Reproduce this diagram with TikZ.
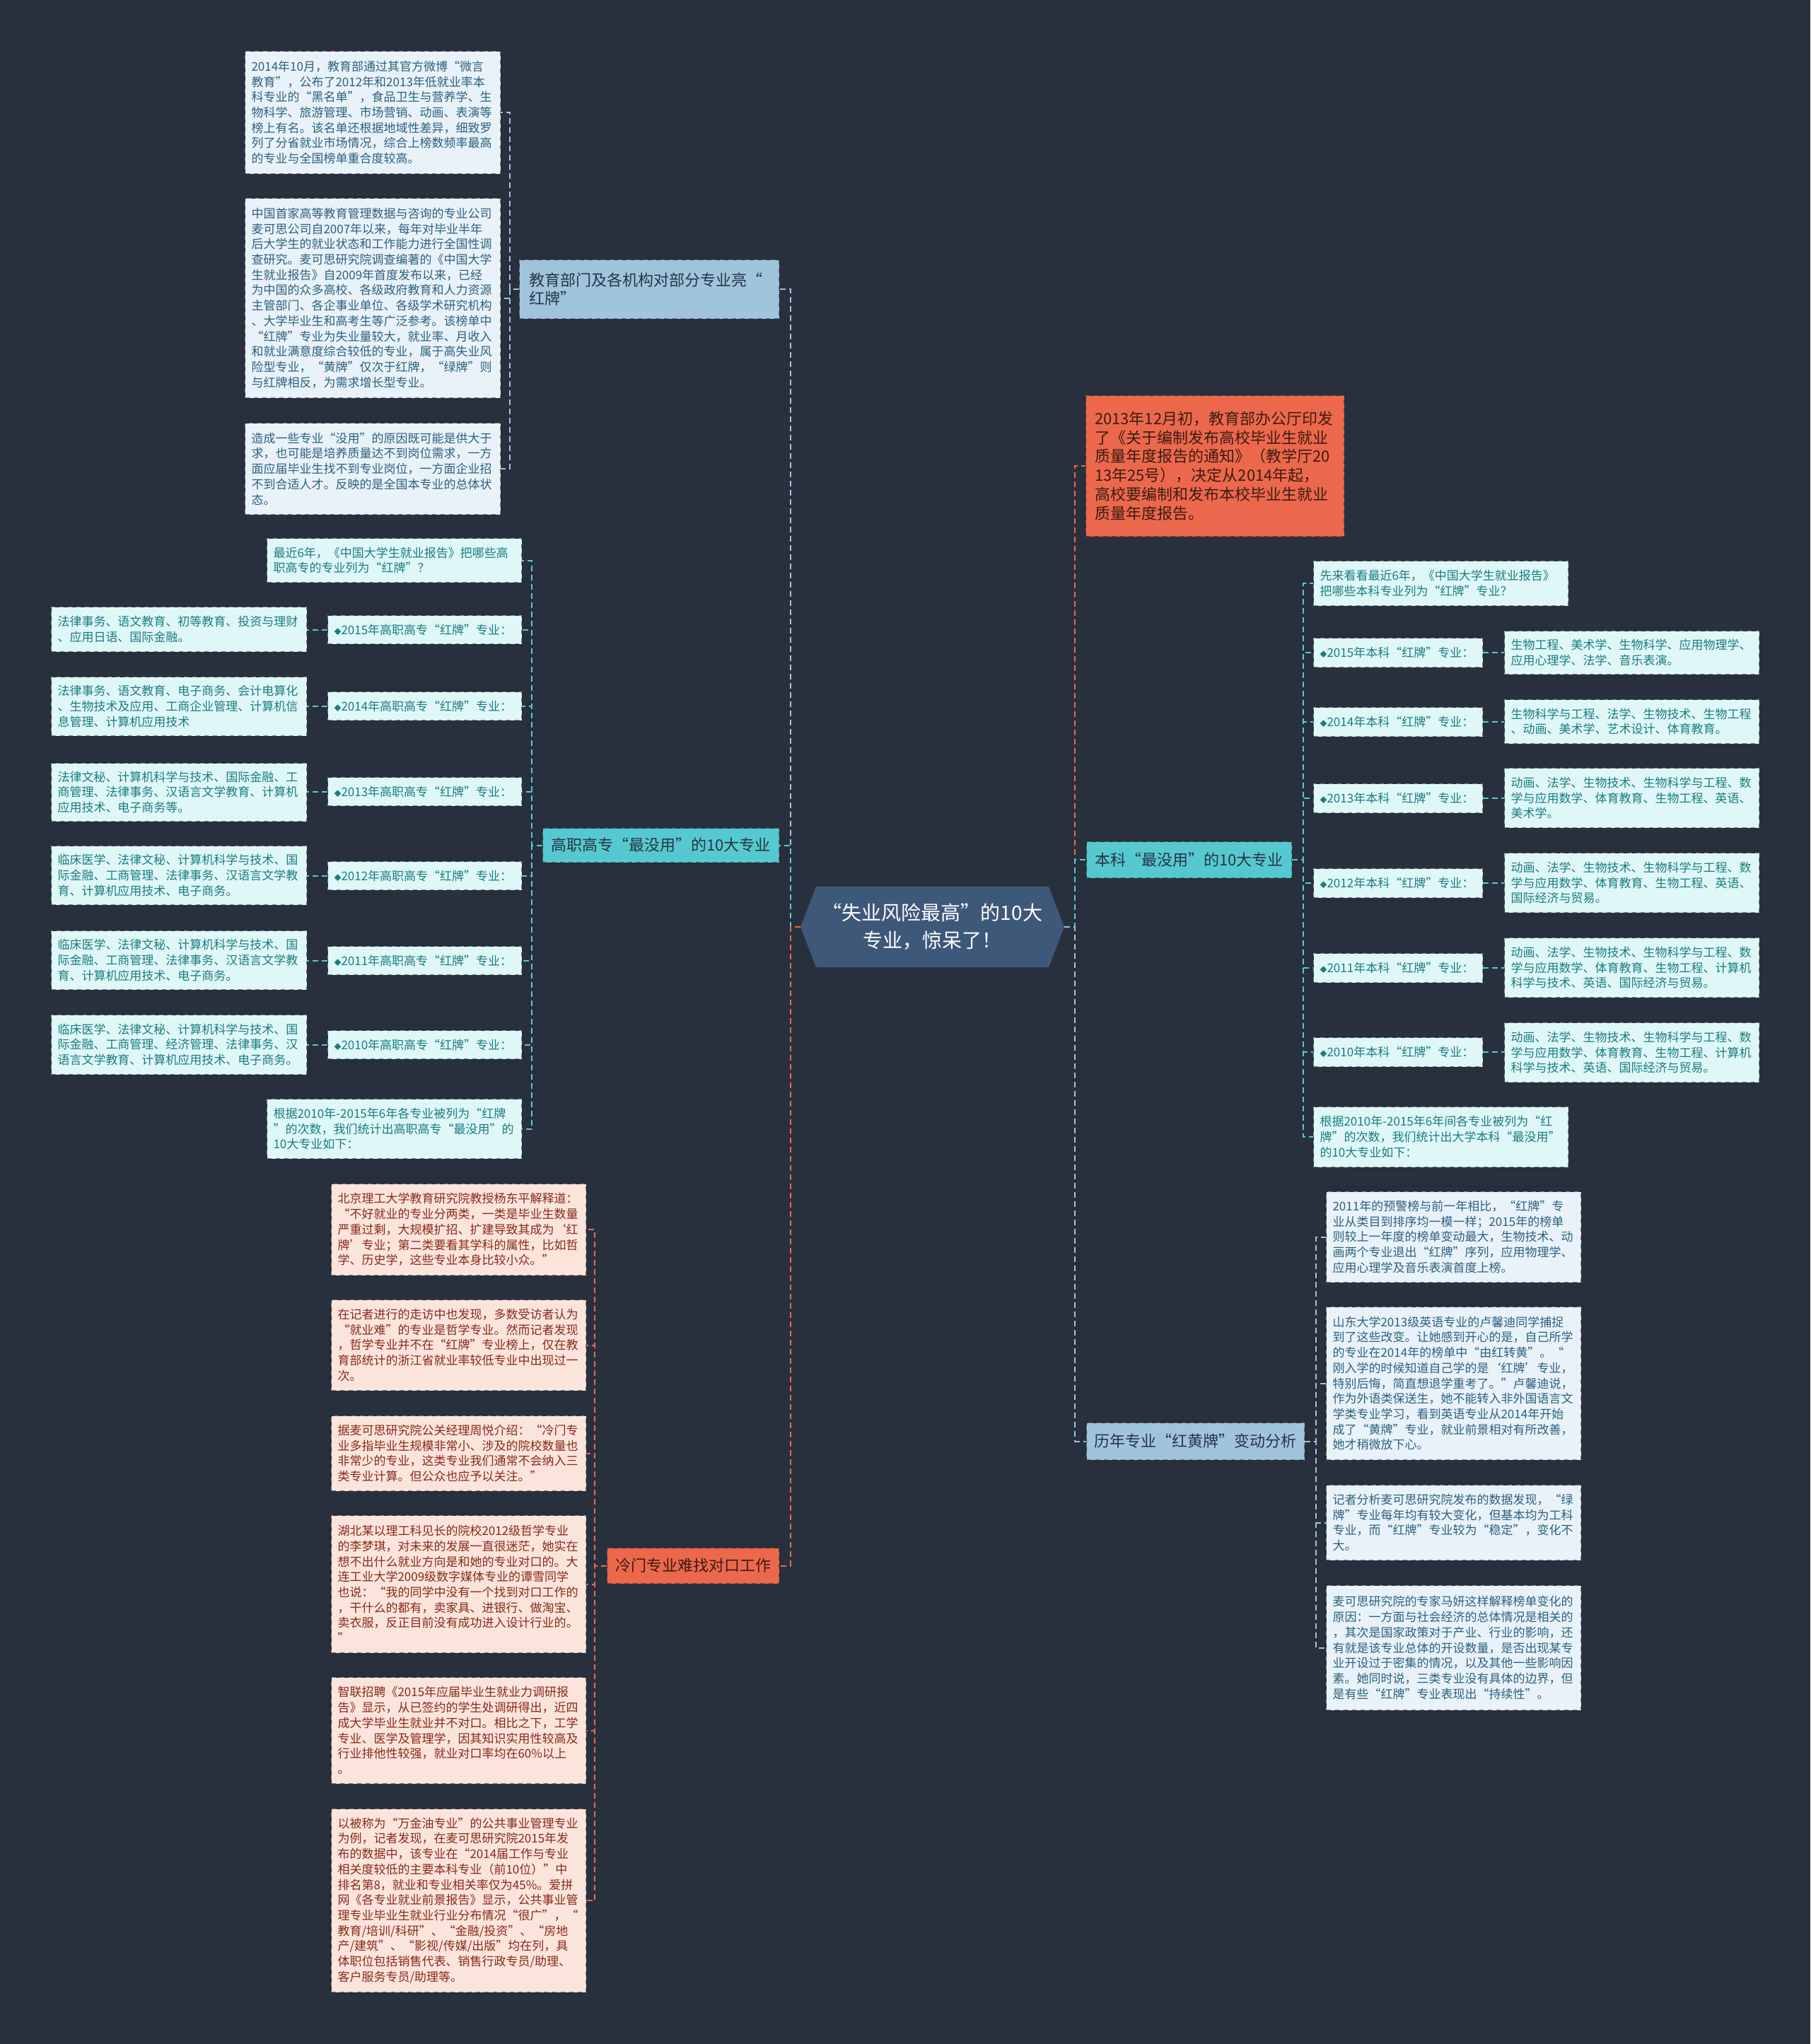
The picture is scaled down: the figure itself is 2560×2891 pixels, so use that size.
\documentclass[tikz,border=0pt]{standalone}
\usepackage{fontspec}
\setmainfont{Noto Sans CJK SC}
\usepackage{tikz}

\definecolor{nen}{RGB}{40,48,62}
\definecolor{tam}{RGB}{62,88,122}
\definecolor{xanh}{RGB}{160,196,220}
\definecolor{ngoc}{RGB}{86,201,208}
\definecolor{do}{RGB}{236,104,76}
\definecolor{nhatxanh}{RGB}{233,242,248}
\definecolor{nhatngoc}{RGB}{223,247,247}
\definecolor{nhathong}{RGB}{251,228,220}
\definecolor{chuxanh}{RGB}{44,96,128}
\definecolor{chungoc}{RGB}{26,124,128}
\definecolor{chudo}{RGB}{135,42,26}
\definecolor{chutoi}{RGB}{38,52,70}
\definecolor{chunau}{RGB}{58,28,18}

\newcommand{\hoa}{{\fontsize{5}{5}\selectfont◆}}

\begin{document}
\begin{tikzpicture}[x=0.5pt, y=-0.5pt,
    con/.style={line width=1pt, dash pattern=on 4pt off 2.5pt},
    conxanh/.style={con, draw=xanh},
    conngoc/.style={con, draw=ngoc},
    condo/.style={con, draw=do},
    hop/.style={anchor=north west, align=left, inner xsep=4.5pt, inner ysep=0pt,
        dashed, line width=0.5pt, font=\fontsize{8.5}{10.85}\selectfont},
    hopxanh/.style={hop, fill=nhatxanh, draw=nhatxanh!55!black, text=chuxanh},
    hopngoc/.style={hop, fill=nhatngoc, draw=nhatngoc!55!black, text=chungoc},
    hopdo/.style={hop, fill=nhathong, draw=nhathong!55!black, text=chudo},
    nhanh/.style={anchor=north west, align=center, inner sep=0pt,
        dashed, line width=0.5pt, font=\fontsize{11}{13.35}\selectfont},
    nhanhxanh/.style={nhanh, fill=xanh, draw=xanh!60!black, text=chutoi},
    nhanhngoc/.style={nhanh, fill=ngoc, draw=ngoc!60!black, text=chutoi},
    nhanhdo/.style={nhanh, fill=do, draw=do!60!black, text=chunau}]

    % 1. Nền
    \fill[nen] (0,0) rectangle (2560,2891);

    % 2. Nút trung tâm
    \fill[tam] (1132,1311) -- (1154,1254) -- (1483,1254) -- (1505,1311)
        -- (1483,1368) -- (1154,1368) -- cycle;
    \node[minimum width=186.5pt, minimum height=57pt, inner sep=0pt, align=center,
        text=white, font=\fontsize{14}{19.4}\selectfont] (goc) at (1318.5,1311)
        {“失业风险最高”的10大\\专业，惊呆了！};

    % 3. Các nhánh chính
    \node[nhanhxanh, minimum width=183.5pt, minimum height=41.5pt, text width=170pt,
        inner xsep=6.75pt, align=left] (jy) at (734,367)
        {教育部门及各机构对部分专业亮“\\红牌”};
    \node[nhanhngoc, minimum width=167pt, minimum height=24pt] (gz) at (767,1171)
        {高职高专“最没用”的10大专业};
    \node[nhanhdo, minimum width=121.5pt, minimum height=25pt] (lm) at (858,2189)
        {冷门专业难找对口工作};
    \node[nhanhdo, minimum width=182.5pt, minimum height=99.5pt, text width=170pt,
        inner xsep=6.25pt, align=left] (tz) at (1535,559)
        {2013年12月初，教育部办公厅印发\\了《关于编制发布高校毕业生就业\\质量年度报告的通知》（教学厅20\\13年25号），决定从2014年起，\\高校要编制和发布本校毕业生就业\\质量年度报告。};
    \node[nhanhngoc, minimum width=145pt, minimum height=25.5pt] (bk) at (1536,1190)
        {本科“最没用”的10大专业};
    \node[nhanhxanh, minimum width=154pt, minimum height=26pt] (ls) at (1536,2012)
        {历年专业“红黄牌”变动分析};

    % 4. Nhánh: 教育部门
    \node[hopxanh, text width=171.5pt, minimum height=86.5pt] (jy1) at (346,72)
        {2014年10月，教育部通过其官方微博“微言\\教育”，公布了2012年和2013年低就业率本\\科专业的“黑名单”，食品卫生与营养学、生\\物科学、旅游管理、市场营销、动画、表演等\\榜上有名。该名单还根据地域性差异，细致罗\\列了分省就业市场情况，综合上榜数频率最高\\的专业与全国榜单重合度较高。};
    \node[hopxanh, text width=171.5pt, minimum height=141pt] (jy2) at (346,280)
        {中国首家高等教育管理数据与咨询的专业公司\\麦可思公司自2007年以来，每年对毕业半年\\后大学生的就业状态和工作能力进行全国性调\\查研究。麦可思研究院调查编著的《中国大学\\生就业报告》自2009年首度发布以来，已经\\为中国的众多高校、各级政府教育和人力资源\\主管部门、各企事业单位、各级学术研究机构\\、大学毕业生和高考生等广泛参考。该榜单中\\“红牌”专业为失业量较大，就业率、月收入\\和就业满意度综合较低的专业，属于高失业风\\险型专业，“黄牌”仅次于红牌，“绿牌”则\\与红牌相反，为需求增长型专业。};
    \node[hopxanh, text width=171.5pt, minimum height=64.5pt] (jy3) at (346,598)
        {造成一些专业“没用”的原因既可能是供大于\\求，也可能是培养质量达不到岗位需求，一方\\面应届毕业生找不到专业岗位，一方面企业招\\不到合适人才。反映的是全国本专业的总体状\\态。};

    % 5. Nhánh: 高职高专
    \node[hopngoc, text width=171pt, minimum height=31pt] (gz0) at (377,761)
        {最近6年，《中国大学生就业报告》把哪些高\\职高专的专业列为“红牌”？};
    \node[hopngoc, text width=128pt, minimum height=20pt] (gn15) at (463,870) {\hoa 2015年高职高专“红牌”专业：};
    \node[hopngoc, text width=128pt, minimum height=20pt] (gn14) at (463,978) {\hoa 2014年高职高专“红牌”专业：};
    \node[hopngoc, text width=128pt, minimum height=20pt] (gn13) at (463,1099) {\hoa 2013年高职高专“红牌”专业：};
    \node[hopngoc, text width=128pt, minimum height=20pt] (gn12) at (463,1218) {\hoa 2012年高职高专“红牌”专业：};
    \node[hopngoc, text width=128pt, minimum height=20pt] (gn11) at (463,1338) {\hoa 2011年高职高专“红牌”专业：};
    \node[hopngoc, text width=128pt, minimum height=20pt] (gn10) at (463,1457) {\hoa 2010年高职高专“红牌”专业：};
    \node[hopngoc, text width=171.5pt, minimum height=31.5pt] (gt15) at (72,858)
        {法律事务、语文教育、初等教育、投资与理财\\、应用日语、国际金融。};
    \node[hopngoc, text width=171.5pt, minimum height=41.5pt] (gt14) at (72,957)
        {法律事务、语文教育、电子商务、会计电算化\\、生物技术及应用、工商企业管理、计算机信\\息管理、计算机应用技术};
    \node[hopngoc, text width=171.5pt, minimum height=41pt] (gt13) at (72,1079)
        {法律文秘、计算机科学与技术、国际金融、工\\商管理、法律事务、汉语言文学教育、计算机\\应用技术、电子商务等。};
    \node[hopngoc, text width=171.5pt, minimum height=41.5pt] (gt12) at (72,1196)
        {临床医学、法律文秘、计算机科学与技术、国\\际金融、工商管理、法律事务、汉语言文学教\\育、计算机应用技术、电子商务。};
    \node[hopngoc, text width=171.5pt, minimum height=41.5pt] (gt11) at (72,1316)
        {临床医学、法律文秘、计算机科学与技术、国\\际金融、工商管理、法律事务、汉语言文学教\\育、计算机应用技术、电子商务。};
    \node[hopngoc, text width=171.5pt, minimum height=42pt] (gt10) at (72,1435)
        {临床医学、法律文秘、计算机科学与技术、国\\际金融、工商管理、经济管理、法律事务、汉\\语言文学教育、计算机应用技术、电子商务。};
    \node[hopngoc, text width=171pt, minimum height=42pt] (gz9) at (377,1554)
        {根据2010年-2015年6年各专业被列为“红牌\\”的次数，我们统计出高职高专“最没用”的\\10大专业如下：};

    % 6. Nhánh: 冷门专业
    \node[hopdo, text width=171pt, minimum height=64.5pt] (lm1) at (468,1674)
        {北京理工大学教育研究院教授杨东平解释道：\\“不好就业的专业分两类，一类是毕业生数量\\严重过剩，大规模扩招、扩建导致其成为‘红\\牌’专业；第二类要看其学科的属性，比如哲\\学、历史学，这些专业本身比较小众。”};
    \node[hopdo, text width=171pt, minimum height=64pt] (lm2) at (468,1838)
        {在记者进行的走访中也发现，多数受访者认为\\“就业难”的专业是哲学专业。然而记者发现\\，哲学专业并不在“红牌”专业榜上，仅在教\\育部统计的浙江省就业率较低专业中出现过一\\次。};
    \node[hopdo, text width=171pt, minimum height=53pt] (lm3) at (468,2002)
        {据麦可思研究院公关经理周悦介绍：“冷门专\\业多指毕业生规模非常小、涉及的院校数量也\\非常少的专业，这类专业我们通常不会纳入三\\类专业计算。但公众也应予以关注。”};
    \node[hopdo, text width=171pt, minimum height=97pt] (lm4) at (468,2143)
        {湖北某以理工科见长的院校2012级哲学专业\\的李梦琪，对未来的发展一直很迷茫，她实在\\想不出什么就业方向是和她的专业对口的。大\\连工业大学2009级数字媒体专业的谭雪同学\\也说：“我的同学中没有一个找到对口工作的\\，干什么的都有，卖家具、进银行、做淘宝、\\卖衣服，反正目前没有成功进入设计行业的。\\”};
    \node[hopdo, text width=171pt, minimum height=75pt] (lm5) at (468,2372)
        {智联招聘《2015年应届毕业生就业力调研报\\告》显示，从已签约的学生处调研得出，近四\\成大学毕业生就业并不对口。相比之下，工学\\专业、医学及管理学，因其知识实用性较高及\\行业排他性较强，就业对口率均在60\%以上\\。};
    \node[hopdo, text width=171pt, minimum height=129.5pt] (lm6) at (468,2558)
        {以被称为“万金油专业”的公共事业管理专业\\为例，记者发现，在麦可思研究院2015年发\\布的数据中，该专业在“2014届工作与专业\\相关度较低的主要本科专业（前10位）”中\\排名第8，就业和专业相关率仅为45\%。爱拼\\网《各专业就业前景报告》显示，公共事业管\\理专业毕业生就业行业分布情况“很广”，“\\教育/培训/科研”、“金融/投资”、“房地\\产/建筑”、“影视/传媒/出版”均在列，具\\体职位包括销售代表、销售行政专员/助理、\\客户服务专员/助理等。};

    % 7. Nhánh: 本科
    \node[hopngoc, text width=171pt, minimum height=31.5pt] (bk0) at (1857,793)
        {先来看看最近6年，《中国大学生就业报告》\\把哪些本科专业列为“红牌”专业？};
    \node[hopngoc, text width=110.5pt, minimum height=20.5pt] (bn15) at (1857,902) {\hoa 2015年本科“红牌”专业：};
    \node[hopngoc, text width=110.5pt, minimum height=20.5pt] (bn14) at (1857,1000) {\hoa 2014年本科“红牌”专业：};
    \node[hopngoc, text width=110.5pt, minimum height=20.5pt] (bn13) at (1857,1108) {\hoa 2013年本科“红牌”专业：};
    \node[hopngoc, text width=110.5pt, minimum height=20.5pt] (bn12) at (1857,1228) {\hoa 2012年本科“红牌”专业：};
    \node[hopngoc, text width=110.5pt, minimum height=20.5pt] (bn11) at (1857,1348) {\hoa 2011年本科“红牌”专业：};
    \node[hopngoc, text width=110.5pt, minimum height=20.5pt] (bn10) at (1857,1467) {\hoa 2010年本科“红牌”专业：};
    \node[hopngoc, text width=171pt, minimum height=30.5pt] (bt15) at (2127,892)
        {生物工程、美术学、生物科学、应用物理学、\\应用心理学、法学、音乐表演。};
    \node[hopngoc, text width=171pt, minimum height=31pt] (bt14) at (2127,989)
        {生物科学与工程、法学、生物技术、生物工程\\、动画、美术学、艺术设计、体育教育。};
    \node[hopngoc, text width=171pt, minimum height=42pt] (bt13) at (2127,1086)
        {动画、法学、生物技术、生物科学与工程、数\\学与应用数学、体育教育、生物工程、英语、\\美术学。};
    \node[hopngoc, text width=171pt, minimum height=42pt] (bt12) at (2127,1206)
        {动画、法学、生物技术、生物科学与工程、数\\学与应用数学、体育教育、生物工程、英语、\\国际经济与贸易。};
    \node[hopngoc, text width=171pt, minimum height=42pt] (bt11) at (2127,1326)
        {动画、法学、生物技术、生物科学与工程、数\\学与应用数学、体育教育、生物工程、计算机\\科学与技术、英语、国际经济与贸易。};
    \node[hopngoc, text width=171pt, minimum height=42pt] (bt10) at (2127,1446)
        {动画、法学、生物技术、生物科学与工程、数\\学与应用数学、体育教育、生物工程、计算机\\科学与技术、英语、国际经济与贸易。};
    \node[hopngoc, text width=171pt, minimum height=42.5pt] (bk9) at (1857,1565)
        {根据2010年-2015年6年间各专业被列为“红\\牌”的次数，我们统计出大学本科“最没用”\\的10大专业如下：};

    % 8. Nhánh: 历年专业
    \node[hopxanh, text width=171pt, minimum height=64pt] (ls1) at (1875,1685)
        {2011年的预警榜与前一年相比，“红牌”专\\业从类目到排序均一模一样；2015年的榜单\\则较上一年度的榜单变动最大，生物技术、动\\画两个专业退出“红牌”序列，应用物理学、\\应用心理学及音乐表演首度上榜。};
    \node[hopxanh, text width=171pt, minimum height=108pt] (ls2) at (1875,1848)
        {山东大学2013级英语专业的卢馨迪同学捕捉\\到了这些改变。让她感到开心的是，自己所学\\的专业在2014年的榜单中“由红转黄”。“\\刚入学的时候知道自己学的是‘红牌’专业，\\特别后悔，简直想退学重考了。”卢馨迪说，\\作为外语类保送生，她不能转入非外国语言文\\学类专业学习，看到英语专业从2014年开始\\成了“黄牌”专业，就业前景相对有所改善，\\她才稍微放下心。};
    \node[hopxanh, text width=171pt, minimum height=53pt] (ls3) at (1875,2100)
        {记者分析麦可思研究院发布的数据发现，“绿\\牌”专业每年均有较大变化，但基本均为工科\\专业，而“红牌”专业较为“稳定”，变化不\\大。};
    \node[hopxanh, text width=171pt, minimum height=88pt] (ls4) at (1875,2242)
        {麦可思研究院的专家马妍这样解释榜单变化的\\原因：一方面与社会经济的总体情况是相关的\\，其次是国家政策对于产业、行业的影响，还\\有就是该专业总体的开设数量，是否出现某专\\业开设过于密集的情况，以及其他一些影响因\\素。她同时说，三类专业没有具体的边界，但\\是有些“红牌”专业表现出“持续性”。};

    % 9. Đường nối
    \draw[conxanh] (goc.west) -- +(-14,0) |- (jy.east);
    \draw[conngoc] (goc.west) -- +(-14,0) |- (gz.east);
    \draw[condo] (goc.west) -- +(-14,0) |- (lm.east);
    \draw[condo] (goc.east) -- +(15,0) |- (tz.west);
    \draw[conngoc] (goc.east) -- +(15,0) |- (bk.west);
    \draw[conxanh] (goc.east) -- +(15,0) |- (ls.west);

    \draw[conxanh] (jy.west) -- +(-13,0) |- (jy1.east);
    \draw[conxanh] (jy.west) -- +(-13,0) |- (jy2.east);
    \draw[conxanh] (jy.west) -- +(-13,0) |- (jy3.east);

    \draw[conngoc] (gz.west) -- +(-15,0) |- (gz0.east);
    \draw[conngoc] (gz.west) -- +(-15,0) |- (gn15.east);
    \draw[conngoc] (gz.west) -- +(-15,0) |- (gn14.east);
    \draw[conngoc] (gz.west) -- +(-15,0) |- (gn13.east);
    \draw[conngoc] (gz.west) -- +(-15,0) |- (gn12.east);
    \draw[conngoc] (gz.west) -- +(-15,0) |- (gn11.east);
    \draw[conngoc] (gz.west) -- +(-15,0) |- (gn10.east);
    \draw[conngoc] (gz.west) -- +(-15,0) |- (gz9.east);
    \draw[conngoc] (gn15.west) -- (gn15.west -| gt15.east);
    \draw[conngoc] (gn14.west) -- (gn14.west -| gt14.east);
    \draw[conngoc] (gn13.west) -- (gn13.west -| gt13.east);
    \draw[conngoc] (gn12.west) -- (gn12.west -| gt12.east);
    \draw[conngoc] (gn11.west) -- (gn11.west -| gt11.east);
    \draw[conngoc] (gn10.west) -- (gn10.west -| gt10.east);

    \draw[condo] (lm.west) -- +(-17,0) |- (lm1.east);
    \draw[condo] (lm.west) -- +(-17,0) |- (lm2.east);
    \draw[condo] (lm.west) -- +(-17,0) |- (lm3.east);
    \draw[condo] (lm.west) -- +(-17,0) |- (lm4.east);
    \draw[condo] (lm.west) -- +(-17,0) |- (lm5.east);
    \draw[condo] (lm.west) -- +(-17,0) |- (lm6.east);

    \draw[conngoc] (bk.east) -- +(16,0) |- (bk0.west);
    \draw[conngoc] (bk.east) -- +(16,0) |- (bn15.west);
    \draw[conngoc] (bk.east) -- +(16,0) |- (bn14.west);
    \draw[conngoc] (bk.east) -- +(16,0) |- (bn13.west);
    \draw[conngoc] (bk.east) -- +(16,0) |- (bn12.west);
    \draw[conngoc] (bk.east) -- +(16,0) |- (bn11.west);
    \draw[conngoc] (bk.east) -- +(16,0) |- (bn10.west);
    \draw[conngoc] (bk.east) -- +(16,0) |- (bk9.west);
    \draw[conngoc] (bn15.east) -- (bn15.east -| bt15.west);
    \draw[conngoc] (bn14.east) -- (bn14.east -| bt14.west);
    \draw[conngoc] (bn13.east) -- (bn13.east -| bt13.west);
    \draw[conngoc] (bn12.east) -- (bn12.east -| bt12.west);
    \draw[conngoc] (bn11.east) -- (bn11.east -| bt11.west);
    \draw[conngoc] (bn10.east) -- (bn10.east -| bt10.west);

    \draw[conxanh] (ls.east) -- +(16,0) |- (ls1.west);
    \draw[conxanh] (ls.east) -- +(16,0) |- (ls2.west);
    \draw[conxanh] (ls.east) -- +(16,0) |- (ls3.west);
    \draw[conxanh] (ls.east) -- +(16,0) |- (ls4.west);
\end{tikzpicture}
\end{document}
